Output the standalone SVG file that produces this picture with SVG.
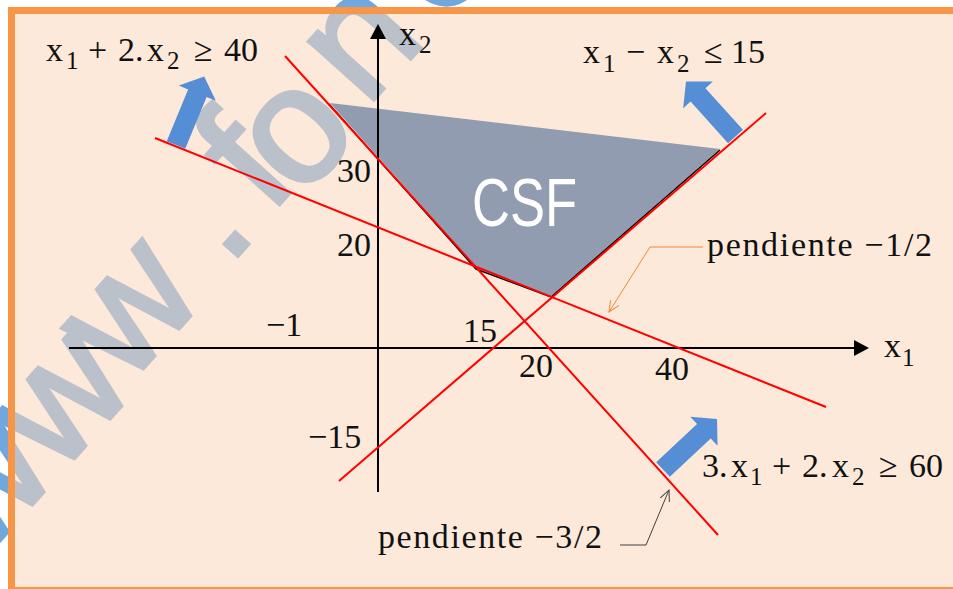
<svg xmlns="http://www.w3.org/2000/svg" width="953" height="589" viewBox="0 0 953 589">
<defs>
<style>
.serif{font-family:"Liberation Serif","Times New Roman",serif;fill:#111;}
.m{font-size:34px;}
.s{font-size:25px;}
.red{stroke:#FF0000;stroke-width:2;fill:none;}
.axis{stroke:#000;stroke-width:2;fill:none;}
.barrow{fill:#558ED5;}
.wm{font-family:"Liberation Sans",Arial,sans-serif;font-size:165px;fill:#70A8DE;stroke:#70A8DE;stroke-width:4;text-anchor:middle;}
</style>
<marker id="openO" viewBox="0 0 12 12" refX="11" refY="6" markerWidth="12" markerHeight="12" markerUnits="userSpaceOnUse" orient="auto">
<path d="M0,1 L11,6 L0,11" fill="none" stroke="#F0883A" stroke-width="1"/>
</marker>
<marker id="openK" viewBox="0 0 12 12" refX="11" refY="6" markerWidth="12" markerHeight="12" markerUnits="userSpaceOnUse" orient="auto">
<path d="M0,1 L11,6 L0,11" fill="none" stroke="#404040" stroke-width="1"/>
</marker>
<path id="blockArrow" d="M0,-10 L56,-10 L56,-20 L74,0 L56,20 L56,10 L0,10 Z"/>
</defs>

<rect x="0" y="0" width="953" height="589" fill="#FFFFFF"/>

<g id="watermark">
<text class="wm" x="20" y="518" transform="rotate(-48 20 518)">w</text>
<text class="wm" x="98" y="432" transform="rotate(-48 98 432)">w</text>
<text class="wm" x="167" y="342" transform="rotate(-48 167 342)">w</text>
<text class="wm" x="243" y="250" transform="rotate(-48 243 250)">.</text>
<text class="wm" x="285" y="198" transform="rotate(-48 285 198)">f</text>
<text class="wm" x="332" y="166" transform="rotate(-48 332 166)">o</text>
<text class="wm" x="397" y="74" transform="rotate(-48 397 74)">n</text>
<text class="wm" x="473" y="-10" transform="rotate(-48 473 -10)">e</text>
</g>

<g id="frame">
<rect x="11.5" y="10.5" width="960" height="580" fill="#F9D6BB" fill-opacity="0.54" stroke="#F79646" stroke-width="7"/>
</g>

<g id="csf">
<polygon points="330,103 477,268 551,296 720,149" fill="#6A80A0" fill-opacity="0.73"/>
<polyline points="329,104 476,269 551,297 720,150" fill="none" stroke="#000" stroke-width="1.5"/>
<text x="472" y="226" font-family="'Liberation Sans',Arial,sans-serif" font-size="68" fill="#FFFFFF" textLength="105" lengthAdjust="spacingAndGlyphs">CSF</text>
</g>

<g id="axes">
<line class="axis" x1="69" y1="348" x2="856" y2="348"/>
<polygon points="869,348 854,340 854,356" fill="#000"/>
<line class="axis" x1="378" y1="492" x2="378" y2="37"/>
<polygon points="378,24 370,39 386,39" fill="#000"/>
</g>

<g id="connectors">
<line id="line1" class="red" x1="155" y1="138" x2="826" y2="407"/>
<line id="line2" class="red" x1="285" y1="56" x2="718" y2="535"/>
<line id="line3" class="red" x1="339" y1="481" x2="766" y2="113"/>
<polyline points="703,247 650,247 609,312" fill="none" stroke="#F0883A" stroke-width="1" marker-end="url(#openO)"/>
<polyline points="620,545 646,545 669,490" fill="none" stroke="#404040" stroke-width="1" marker-end="url(#openK)"/>
</g>

<g id="arrows">
<use href="#blockArrow" class="barrow" transform="translate(176,145) rotate(-67.6)"/>
<use href="#blockArrow" class="barrow" transform="translate(735.5,136.5) rotate(-132)"/>
<use href="#blockArrow" class="barrow" transform="translate(663,469.5) rotate(-43.1)"/>
</g>

<g id="ticks" class="serif">
<text class="m" x="337" y="182">30</text>
<text class="m" x="337" y="256">20</text>
<text class="m" x="266" y="336">−1</text>
<text class="m" x="463" y="342">15</text>
<text class="m" x="519" y="377">20</text>
<text class="m" x="655" y="380">40</text>
<text class="m" x="308" y="448">−15</text>
</g>

<g id="axis-labels" class="serif">
<text class="m" x="399" y="45">x</text>
<text class="s" x="419" y="53">2</text>
<text class="m" x="884" y="357">x</text>
<text class="s" x="902" y="366">1</text>
</g>

<g id="constraint1" class="serif">
<text class="m" x="46" y="61">x</text>
<text class="s" x="66" y="69">1</text>
<text class="m" x="88" y="61">+</text>
<text class="m" x="118" y="61">2.</text>
<text class="m" x="147" y="61">x</text>
<text class="s" x="167" y="69">2</text>
<text class="m" x="194" y="61">≥</text>
<text class="m" x="224" y="61">40</text>
</g>

<g id="constraint2" class="serif">
<text class="m" x="583" y="63">x</text>
<text class="s" x="603" y="72">1</text>
<text class="m" x="626" y="63">−</text>
<text class="m" x="657" y="63">x</text>
<text class="s" x="677" y="72">2</text>
<text class="m" x="704" y="63">≤</text>
<text class="m" x="731" y="63">15</text>
</g>

<g id="constraint3" class="serif">
<text class="m" x="702" y="477">3.</text>
<text class="m" x="731" y="477">x</text>
<text class="s" x="750" y="485">1</text>
<text class="m" x="772" y="477">+</text>
<text class="m" x="802" y="477">2.</text>
<text class="m" x="832" y="477">x</text>
<text class="s" x="852" y="485">2</text>
<text class="m" x="879" y="477">≥</text>
<text class="m" x="909" y="477">60</text>
</g>

<g id="slope-labels" class="serif">
<text class="m" x="707" y="256" textLength="225" lengthAdjust="spacing">pendiente −1/2</text>
<text class="m" x="378" y="548" textLength="224" lengthAdjust="spacing">pendiente −3/2</text>
</g>
</svg>
